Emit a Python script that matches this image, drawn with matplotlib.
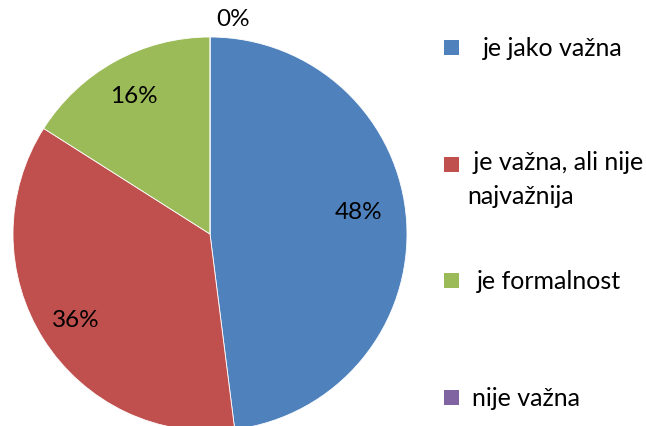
import numpy as np
import matplotlib
matplotlib.use("Agg")
import matplotlib.pyplot as plt
from matplotlib.patches import Rectangle

categories = ["je jako važna", " je važna, ali nije\nnajvažnija", "je formalnost", "nije važna"]
values = [48, 36, 16, 0]
pct_labels = ["48%", "36%", "16%", "0%"]
colors = ["#4F81BD", "#C0504D", "#9BBB59", "#8064A2"]

plt.rcParams['font.family'] = ['Lato', 'DejaVu Sans']

W, H = 646, 427
fig = plt.figure(figsize=(W/100, H/100), dpi=100)
cx, cy, r = 210, 235, 197
ax = fig.add_axes([(cx - r)/W, (H - cy - r)/H, 2*r/W, 2*r/H])
ax.set_aspect('equal')
ax.axis('off')

wedges, _ = ax.pie(values, colors=colors, startangle=90, counterclock=False,
                   radius=1, center=(0, 0), frame=False,
                   wedgeprops=dict(edgecolor='white', linewidth=0.6))
ax.set_xlim(-1, 1)
ax.set_ylim(-1, 1)

dists = [0.76, 0.81, 0.80, 1.10]
offs = [5, 0, 0, -6]
for w, lab, d, o in zip(wedges, pct_labels, dists, offs):
    mid = np.deg2rad((w.theta1 + w.theta2) / 2 + o)
    ax.text(d*np.cos(mid), d*np.sin(mid), lab, ha='center', va='center',
            fontsize=17.5, color='black', clip_on=False)

# legend
sq = 15
ys = [48, 165, 281, 398]
xs = [483, 467, 477, 472]
line_h = 31
for cat, col, y, x in zip(categories, colors, ys, xs):
    fig.add_artist(Rectangle((444/W, (H - y - sq/2)/H), sq/W, sq/H,
                             transform=fig.transFigure, facecolor=col, edgecolor='none'))
    n = cat.count('\n')
    fig.text(x/W, (H - y - 8 - line_h*n)/H, cat, ha='left', va='baseline', fontsize=18,
             linespacing=1.6, color='black')

fig.savefig("out.png", dpi=100, facecolor='white')
